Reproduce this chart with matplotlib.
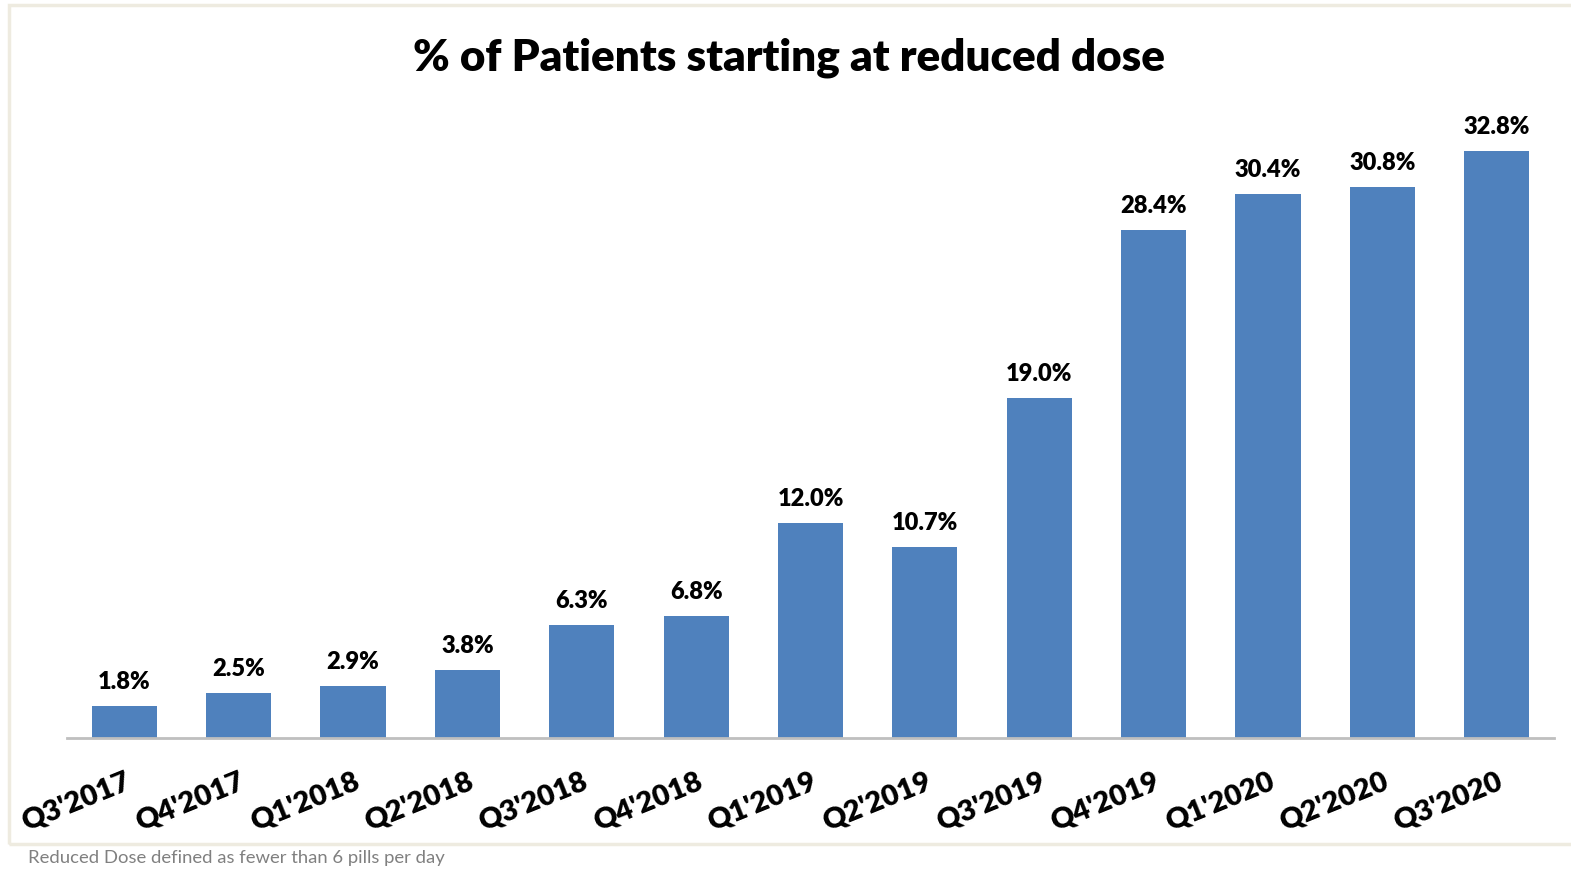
import matplotlib.pyplot as plt
from matplotlib.patches import Rectangle

quarters = ["Q3'2017", "Q4'2017", "Q1'2018", "Q2'2018", "Q3'2018", "Q4'2018", "Q1'2019",
            "Q2'2019", "Q3'2019", "Q4'2019", "Q1'2020", "Q2'2020", "Q3'2020"]
pct = [1.8, 2.5, 2.9, 3.8, 6.3, 6.8, 12.0, 10.7, 19.0, 28.4, 30.4, 30.8, 32.8]

plt.rcParams['font.family'] = ['Lato', 'DejaVu Sans']

fig = plt.figure(figsize=(15.71, 8.70), dpi=100)
W, H = 1571, 870

# light frame round the chart
fig.patches.append(Rectangle((9 / W, 1 - 845 / H), (1575 - 9) / W, (845 - 6) / H,
                             transform=fig.transFigure, fill=False,
                             edgecolor='#eeebe0', linewidth=2.5))

ax = fig.add_axes([67 / W, 1 - 739 / H, (1554 - 67) / W, (739 - 113) / H])
x = range(len(pct))
ax.bar(x, pct, width=0.57, color='#4f81bd')
ax.set_xlim(-0.5, len(pct) - 0.5)
ax.set_ylim(0, 35)

for i, v in zip(x, pct):
    ax.annotate(f"{v:.1f}%", (i, v), xytext=(0, 10), textcoords='offset points',
                ha='center', va='bottom', fontsize=17, fontweight='heavy')

for s in ['top', 'right', 'left']:
    ax.spines[s].set_visible(False)
ax.spines['bottom'].set_color('#bfbfbf')
ax.spines['bottom'].set_linewidth(2)
ax.set_yticks([])
ax.set_xticks(list(x))
ax.set_xticklabels(quarters, rotation=22, ha='right', rotation_mode='anchor',
                   fontsize=21, fontweight='heavy')
ax.tick_params(axis='x', length=0, pad=21)

fig.text(789 / W, 1 - 58 / H, "% of Patients starting at reduced dose", ha='center', va='center',
         fontsize=31.7, fontweight='heavy')
fig.text(28 / W, 1 - 858 / H, "Reduced Dose defined as fewer than 6 pills per day", ha='left',
         va='center', fontsize=13.3, color='#808080')

fig.savefig('out.png', dpi=100)
